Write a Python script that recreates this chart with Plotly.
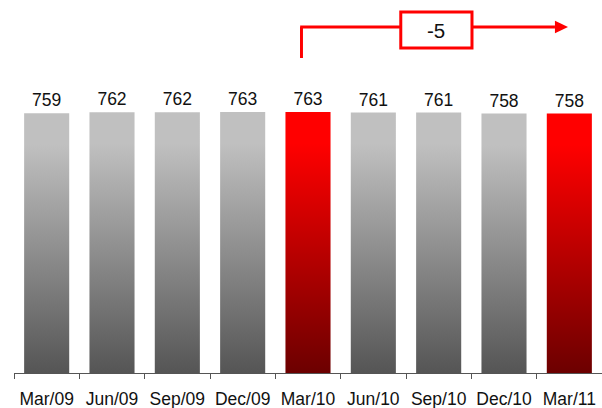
import plotly.graph_objects as go

# Quarterly values
quarters = ["Mar/09", "Jun/09", "Sep/09", "Dec/09", "Mar/10",
            "Jun/10", "Sep/10", "Dec/10", "Mar/11"]
values = [759, 762, 762, 763, 763, 761, 761, 758, 758]
highlight = [False, False, False, False, True, False, False, False, True]

# Change between the two highlighted quarters
change_label = "-5"

BAR_WIDTH = 0.69
GRAY = ("#555555", "#c0c0c0")   # bottom, top
RED = ("#6c0000", "#ff0000")
FONT = "Liberation Sans, Arial, sans-serif"

fig = go.Figure()

# Value labels carried by (invisible) bars on the category axis
fig.add_trace(go.Bar(
    x=quarters, y=values,
    width=BAR_WIDTH,
    marker=dict(color="rgba(0,0,0,0)", line=dict(width=0)),
    text=[str(v) for v in values],
    textposition="outside",
    constraintext="none",
    textfont=dict(family=FONT, size=17.5, color="#111111"),
    cliponaxis=False,
    hoverinfo="x+y",
    showlegend=False,
))

# Gradient-filled bar bodies on a linear twin of the x axis
for i, (v, hl) in enumerate(zip(values, highlight)):
    lo, hi = RED if hl else GRAY
    x0, x1 = i - BAR_WIDTH / 2, i + BAR_WIDTH / 2
    fig.add_trace(go.Scatter(
        x=[x0, x1, x1, x0, x0], y=[0, 0, v, v, 0],
        xaxis="x2", mode="lines", line=dict(width=0),
        fill="toself",
        fillgradient=dict(type="vertical",
                          colorscale=[[0, lo], [0.88, hi], [1, hi]]),
        hoverinfo="skip", showlegend=False,
    ))

Y_MAX = 1090

def py(pixel_y):
    # plot-area pixel row -> paper fraction (plot area is 373 px tall)
    return (373 - pixel_y) / 373

RED_LINE = dict(color="#ff0000", width=3)
i_from = quarters.index("Mar/10")
i_to = quarters.index("Mar/11")
x_start = i_from - 0.1
box_l, box_r = 5.42, 6.51
y_line = py(27)

shapes = [
    dict(type="line", xref="x2", yref="paper", x0=x_start, x1=x_start,
         y0=py(58), y1=y_line, line=RED_LINE),
    dict(type="line", xref="x2", yref="paper", x0=x_start - 0.02, x1=box_l,
         y0=y_line, y1=y_line, line=RED_LINE),
    dict(type="line", xref="x2", yref="paper", x0=box_r, x1=i_to - 0.22,
         y0=y_line, y1=y_line, line=RED_LINE),
    dict(type="path", xref="x2", yref="paper",
         path=f"M {i_to - 0.22},{y_line + 0.017} L {i_to - 0.02},{y_line} "
              f"L {i_to - 0.22},{y_line - 0.017} Z",
         fillcolor="#ff0000", line=dict(width=0)),
    dict(type="rect", xref="x2", yref="paper", x0=box_l, x1=box_r,
         y0=py(48), y1=py(12), fillcolor="white", line=RED_LINE, layer="below"),
]

fig.update_layout(
    width=602, height=408, autosize=False,
    margin=dict(l=14, r=0, t=0, b=35),
    paper_bgcolor="white", plot_bgcolor="white",
    font=dict(family=FONT, color="#111111"),
    shapes=shapes,
    annotations=[dict(
        xref="x2", yref="paper", x=(box_l + box_r) / 2, y=py(30),
        xanchor="center", yanchor="middle",
        text=change_label, showarrow=False,
        font=dict(family=FONT, size=20.5, color="#111111"),
    )],
    xaxis=dict(
        type="category", range=[-0.5, 8.5],
        tickson="boundaries", ticks="outside", ticklen=5,
        tickcolor="#555555", tickwidth=1,
        showline=True, linecolor="#555555", linewidth=1,
        showgrid=False, zeroline=False,
        tickfont=dict(family=FONT, size=17.5, color="#111111"),
        ticklabelstandoff=10,
        fixedrange=True,
    ),
    xaxis2=dict(
        overlaying="x", range=[-0.5, 8.5], visible=False, fixedrange=True,
    ),
    yaxis=dict(range=[0, Y_MAX], visible=False, showgrid=False,
               zeroline=False, fixedrange=True),
    bargap=0.31,
    showlegend=False,
)

fig.write_html("out.html")
